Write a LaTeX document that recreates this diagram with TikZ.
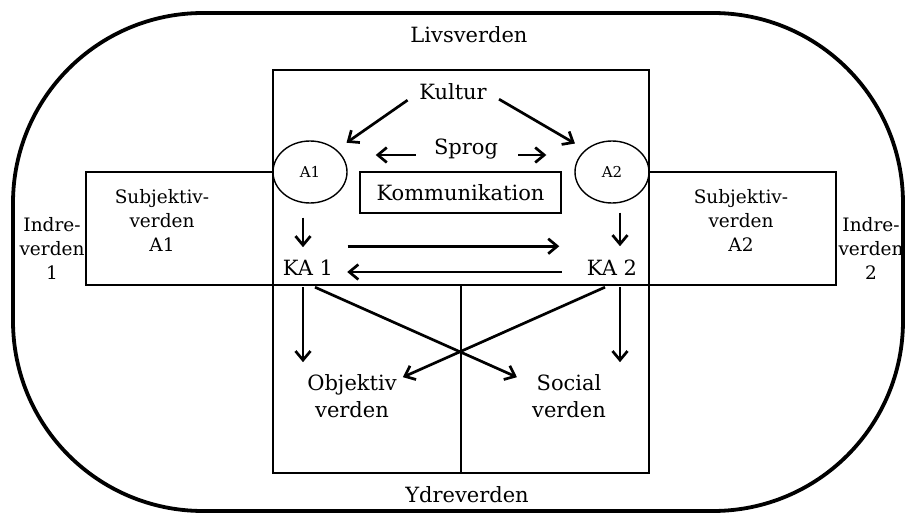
\documentclass[tikz,border=0pt]{standalone}
\usepackage{fontspec}
\setmainfont{DejaVu Serif}
\usetikzlibrary{arrows.meta,shapes.geometric}
\begin{document}
\begin{tikzpicture}[x=1pt,y=-1pt,
    arr/.style={-{Straight Barb[length=9pt,width=15pt]}, line width=2.7pt},
    big/.style={font=\fontsize{21}{27}\selectfont, inner sep=0pt},
    side/.style={font=\fontsize{18.5}{24}\selectfont, align=center, inner sep=0pt},
    agent/.style={shape=ellipse, draw, line width=1.4pt, minimum width=74pt, minimum height=62pt, inner sep=0pt, font=\fontsize{15}{17}\selectfont}]
      \useasboundingbox (0,0) rectangle (905,513);
      \draw[line width=3.8pt, rounded corners=190pt] (13,13) rectangle (903,511);
      \draw[line width=2pt] (273,70) rectangle (649,473);
      \draw[line width=2pt] (461,285) -- (461,473);

      \node[agent] (A1) at (310,172) {A1};
      \node[agent] (A2) at (612,172) {A2};
      \draw[line width=2pt] (A1.west) -- (86,172) -- (86,285) -- (836,285) -- (836,172) -- (A2.east);

      \node[big, anchor=base] (Liv) at (469,43) {Livsverden};
      \node[big, anchor=base] (Ydre) at (467,502) {Ydreverden};
      \node[big, anchor=base] (Kultur) at (453,100) {Kultur};
      \node[big, anchor=base] (Sprog) at (466,155) {Sprog};
      \node[big, draw, line width=1.4pt, minimum width=201pt, minimum height=41pt] (Komm) at (460.5,192.5) {Kommunikation};
      \node[big, anchor=base] (KA1) at (308,275) {KA 1};
      \node[big, anchor=base] (KA2) at (612,275) {KA 2};
      \node[big, align=center] (Obj) at (352,396) {Objektiv\\verden};
      \node[big, align=center] (Soc) at (569,396) {Social\\verden};
      \node[side] (Sub1) at (162,220) {Subjektiv-\\verden\\A1};
      \node[side] (Sub2) at (741,220) {Subjektiv-\\verden\\A2};
      \node[side] (Ind1) at (52,248) {Indre-\\verden\\1};
      \node[side] (Ind2) at (871,248) {Indre-\\verden\\2};

      \draw[arr, shorten <=14pt, shorten >=12pt] (Kultur.west) to (A1.north east);
      \draw[arr, shorten <=14pt, shorten >=12pt] (Kultur.east) to (A2.north west);
      \draw[arr, shorten <=18pt, shorten >=28pt] (Sprog.base west) to (Sprog.base west -| A1.east);
      \draw[arr, shorten <=20pt, shorten >=28pt] (Sprog.base east) to (Sprog.base east -| A2.west);
      \draw[arr, shorten <=14pt, shorten >=12pt] ([xshift=-7pt]A1.south) to ([xshift=-7pt]A1.south |- KA1.north);
      \draw[arr, shorten <=9pt, shorten >=13pt] ([xshift=8pt]A2.south) to ([xshift=8pt]A2.south |- KA2.north);
      \draw[arr, shorten >=15pt] ([yshift=13pt]KA1.north -| A1.east) to ([yshift=13pt]KA1.north -| A2.west);
      \draw[arr, shorten <=25pt, shorten >=14pt] ([yshift=3pt]KA2.base west) to ([yshift=3pt]KA1.base east);
      \draw[arr, shorten <=12pt, shorten >=12pt] ([xshift=-5pt]KA1.south) to ([xshift=-5pt]KA1.south |- Obj.north);
      \draw[arr, shorten <=12pt, shorten >=12pt] ([xshift=8pt]KA2.south) to ([xshift=8pt]KA2.south |- Soc.north);
      \draw[arr] ([shift={(7pt,-12pt)}]KA1.south) to ([shift={(-15pt,-3pt)}]Soc.north west);
      \draw[arr] ([shift={(-7pt,-12pt)}]KA2.south) to ([shift={(6pt,-3pt)}]Obj.north east);
    \end{tikzpicture}
\end{document}
